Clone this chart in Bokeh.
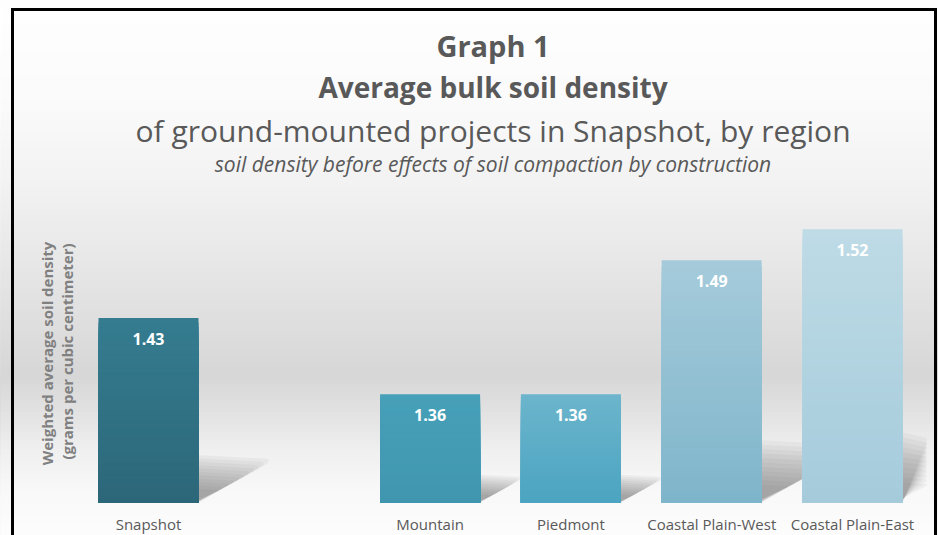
import math
from bokeh.plotting import figure
from bokeh.models import Range1d, Label
from bokeh.embed import file_html
from bokeh.resources import INLINE
from bokeh.core.properties import value

# ---------------- data ----------------
categories = ["Snapshot", "Mountain", "Piedmont", "Coastal Plain-West", "Coastal Plain-East"]
densities = [1.434, 1.36, 1.36, 1.49, 1.52]
value_labels = ["1.43", "1.36", "1.36", "1.49", "1.52"]
# category slots along the x scale (None = empty gap)
slot_layout = ["Snapshot", None, "Mountain", "Piedmont", "Coastal Plain-West", "Coastal Plain-East"]

title_1 = "Graph 1"
title_2 = "Average bulk soil density"
title_3 = "of ground-mounted projects in Snapshot, by region"
subtitle = "soil density before effects of soil compaction by construction"
ylabel_1 = "Weighted average  soil density"
ylabel_2 = "(grams per cubic centimeter)"

bar_top_colors = ["#357c90", "#46a0b8", "#6cb5cc", "#a5cbdb", "#bedbe6"]
bar_bottom_colors = ["#2c6779", "#4196af", "#4ba4c1", "#7fb5ca", "#a5cbdb"]

# ---------------- layout ----------------
W, H = 938, 535
BASE_PX = 502          # pixel row of the bar baseline
SLOT_PX = 140.8
FIRST_PX = 148.0
Y_BASE = 1.255
PX_PER_UNIT = 1031.0
BAR_W = 100.0 / SLOT_PX

x0 = -FIRST_PX / SLOT_PX
x1 = (W - FIRST_PX) / SLOT_PX
y1 = Y_BASE + BASE_PX / PX_PER_UNIT
y0 = y1 - H / PX_PER_UNIT


def rx(px):
    return x0 + px / SLOT_PX


def ry(py):
    return y1 - py / PX_PER_UNIT


def hex_to_rgb(h):
    h = h.lstrip("#")
    return [int(h[i:i + 2], 16) for i in (0, 2, 4)]


def mix(c1, c2, t):
    a, b = hex_to_rgb(c1), hex_to_rgb(c2)
    return "#%02x%02x%02x" % tuple(int(round(a[i] + (b[i] - a[i]) * t)) for i in range(3))


p = figure(width=W, height=H, x_range=Range1d(x0, x1), y_range=Range1d(y0, y1),
           output_backend="svg", toolbar_location=None,
           x_axis_location=None, y_axis_location=None,
           min_border_left=0, min_border_right=0, min_border_top=0, min_border_bottom=0)
p.grid.visible = False
p.outline_line_color = None
p.background_fill_color = "white"
p.border_fill_color = "white"

# ---------------- background gradient ----------------
stops_y = [0, 100, 180, 280, 375, 420, 450, 490, 535]
stops_v = [255, 251, 243, 229, 215, 229, 240, 249, 253]


def gray_at(y):
    for i in range(len(stops_y) - 1):
        if stops_y[i] <= y <= stops_y[i + 1]:
            t = (y - stops_y[i]) / (stops_y[i + 1] - stops_y[i])
            v = stops_v[i] + (stops_v[i + 1] - stops_v[i]) * t
            return "#%02x%02x%02x" % (int(v), int(v), int(v))
    return "#ffffff"


n_strips = 130
tops, cols = [], []
for i in range(n_strips):
    a = H * i / n_strips
    b = H * (i + 1) / n_strips
    tops.append(ry(a))
    cols.append(gray_at((a + b) / 2))
p.quad(left=x0, right=x1, top=tops, bottom=y0, fill_color=cols, line_color=None)

# ---------------- bars ----------------
xs = [slot_layout.index(c) for c in categories]
limit_x = rx(926)

# soft perspective shadows behind the bars
for x, v in zip(xs, densities):
    h = v - Y_BASE
    h_px = h * PX_PER_UNIT
    xr = x + BAR_W / 2
    n_layers = 11
    for k in range(n_layers):
        s = 1.05 - 0.075 * k
        tip = min(xr + s * 0.36 * h_px / SLOT_PX, limit_x)
        p.patch([xr, xr, tip, tip],
                [Y_BASE + 0.02 * h * (1.05 - s), Y_BASE + s * 0.245 * h,
                 Y_BASE + 0.225 * h * s, Y_BASE + 0.205 * h * s],
                fill_color="#505050", fill_alpha=0.06, line_color=None)

n_seg = 40
for x, v, ct, cb in zip(xs, densities, bar_top_colors, bar_bottom_colors):
    h = v - Y_BASE
    seg_t = [Y_BASE + h * k / n_seg for k in range(n_seg, 0, -1)]
    seg_c = [mix(cb, ct, (k - 0.5) / n_seg) for k in range(n_seg, 0, -1)]
    p.vbar(x=[x] * n_seg, width=BAR_W, bottom=Y_BASE, top=seg_t, fill_color=seg_c, line_color=None)

# value labels inside the bars
p.text(x=xs, y=densities, text=value_labels, y_offset=21,
       text_font=value("Open Sans"), text_font_style="bold", text_font_size="16px",
       text_color="white", text_align="center", text_baseline="middle")

# category labels under the bars
p.text(x=xs, y=[Y_BASE] * len(xs), text=categories, y_offset=21,
       text_font=value("Open Sans"), text_font_size="15px",
       text_color="#595959", text_align="center", text_baseline="middle")

# ---------------- titles ----------------
cx = rx(492.5)
for txt, yy, size, style in [(title_1, 45, "29px", "bold"), (title_2, 86, "28px", "bold"),
                             (title_3, 130, "30px", "normal"), (subtitle, 163, "21px", "italic")]:
    p.add_layout(Label(x=cx, y=ry(yy), text=txt, text_font="Open Sans", text_font_size=size,
                       text_font_style=style, text_color="#595959",
                       text_align="center", text_baseline="middle"))

for txt, xx in [(ylabel_1, 46), (ylabel_2, 66)]:
    p.add_layout(Label(x=rx(xx), y=ry(351), text=txt, angle=math.pi / 2,
                       text_font="Open Sans", text_font_size="15px", text_font_style="bold",
                       text_color="#808080", text_align="center", text_baseline="middle"))

# ---------------- frame border (open at the bottom) ----------------
p.line(x=[rx(12), rx(12), rx(935), rx(935)], y=[ry(560), ry(9), ry(9), ry(560)],
       line_color="black", line_width=3, line_join="miter")

open("out.html", "w").write(file_html(p, INLINE))
